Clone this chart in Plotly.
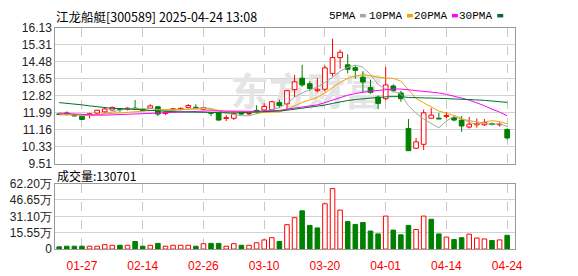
import plotly.graph_objects as go

# ---------------- data ----------------
dates = ["2025-01-22", "2025-01-23", "2025-01-24", "2025-01-27",
         "2025-02-05", "2025-02-06", "2025-02-07", "2025-02-10", "2025-02-11", "2025-02-12",
         "2025-02-13", "2025-02-14", "2025-02-17", "2025-02-18", "2025-02-19", "2025-02-20",
         "2025-02-21", "2025-02-24", "2025-02-25", "2025-02-26", "2025-02-27", "2025-02-28",
         "2025-03-03", "2025-03-04", "2025-03-05", "2025-03-06", "2025-03-07", "2025-03-10",
         "2025-03-11", "2025-03-12", "2025-03-13", "2025-03-14", "2025-03-17", "2025-03-18",
         "2025-03-19", "2025-03-20", "2025-03-21", "2025-03-24", "2025-03-25", "2025-03-26",
         "2025-03-27", "2025-03-28", "2025-03-31", "2025-04-01", "2025-04-02", "2025-04-03",
         "2025-04-07", "2025-04-08", "2025-04-09", "2025-04-10", "2025-04-11", "2025-04-14",
         "2025-04-15", "2025-04-16", "2025-04-17", "2025-04-18", "2025-04-21", "2025-04-22",
         "2025-04-23", "2025-04-24"]

opens = [11.93, 11.98, 11.88, 11.82, 11.86, 11.97, 12.03, 12.12, 12.19, 12.15,
         12.21, 12.15, 12.21, 12.28, 11.95, 12.12, 12.15, 12.25, 12.25, 12.15,
         11.98, 11.98, 11.71, 11.72, 12.00, 11.93, 12.10, 12.12, 12.14, 12.48,
         12.42, 13.11, 13.67, 13.40, 13.06, 13.13, 13.90, 14.67, 14.32, 14.18,
         13.71, 13.21, 12.75, 12.67, 13.29, 12.95, 11.22, 10.26, 10.45, 11.72,
         11.72, 11.80, 11.75, 11.63, 11.29, 11.40, 11.40, 11.45, 11.40, 11.17]
highs = [11.97, 12.05, 11.92, 11.84, 11.98, 12.12, 12.25, 12.28, 12.22, 12.25,
         12.60, 12.19, 12.40, 12.30, 12.06, 12.22, 12.24, 12.40, 12.40, 12.28,
         12.00, 12.00, 11.88, 12.01, 12.05, 12.00, 12.35, 12.45, 12.56, 12.62,
         13.08, 13.83, 14.32, 13.52, 13.67, 14.29, 15.59, 15.06, 14.83, 14.29,
         14.01, 13.60, 12.83, 14.21, 13.37, 13.06, 11.68, 10.76, 12.14, 12.21,
         11.98, 12.03, 11.83, 11.83, 11.78, 11.71, 11.68, 11.51, 11.52, 11.23]
lows = [11.87, 11.86, 11.80, 11.64, 11.71, 11.88, 12.00, 12.10, 12.03, 12.10,
        12.12, 12.05, 12.17, 11.83, 11.88, 12.05, 12.10, 12.20, 12.18, 12.10,
        11.82, 11.60, 11.58, 11.63, 11.88, 11.88, 11.93, 12.02, 12.10, 12.21,
        12.17, 12.75, 13.25, 13.06, 12.98, 13.01, 13.75, 14.13, 13.90, 13.64,
        12.98, 12.91, 12.17, 12.60, 12.98, 12.52, 10.14, 10.22, 10.17, 11.72,
        11.68, 11.72, 11.57, 11.06, 11.22, 11.26, 11.34, 11.37, 11.32, 10.68]
closes = [11.90, 11.91, 11.83, 11.66, 11.94, 12.11, 12.17, 12.25, 12.15, 12.21,
          12.17, 12.09, 12.32, 11.92, 12.01, 12.18, 12.20, 12.34, 12.22, 12.24,
          11.96, 11.63, 11.75, 11.94, 11.92, 11.95, 12.03, 12.29, 12.52, 12.34,
          13.06, 13.49, 13.34, 13.17, 13.13, 14.17, 14.67, 14.93, 14.10, 14.05,
          13.48, 12.98, 12.44, 13.34, 13.06, 12.67, 10.14, 10.57, 11.98, 11.87,
          11.68, 11.85, 11.63, 11.34, 11.43, 11.45, 11.52, 11.42, 11.43, 10.76]

ma5 = [11.92, 11.92, 11.90, 11.86, 11.85, 11.89, 11.94, 12.03, 12.12, 12.18,
       12.19, 12.17, 12.19, 12.14, 12.10, 12.10, 12.13, 12.13, 12.19, 12.24,
       12.19, 12.08, 11.96, 11.90, 11.84, 11.84, 11.92, 12.03, 12.14, 12.23,
       12.45, 12.74, 12.95, 13.08, 13.24, 13.46, 13.70, 14.01, 14.20, 14.30,
       14.20, 13.85, 13.35, 13.15, 13.02, 12.90, 12.33, 11.96, 11.68, 11.45,
       11.25, 11.59, 11.80, 11.67, 11.59, 11.54, 11.47, 11.43, 11.45, 11.32]
ma10 = [11.88, 11.88, 11.87, 11.86, 11.88, 11.90, 11.93, 11.96, 11.98, 12.01,
        12.04, 12.06, 12.11, 12.11, 12.14, 12.14, 12.15, 12.16, 12.17, 12.17,
        12.15, 12.10, 12.05, 12.05, 12.04, 12.02, 12.00, 11.99, 12.02, 12.03,
        12.14, 12.33, 12.49, 12.61, 12.73, 12.95, 13.21, 13.47, 13.65, 13.78,
        13.82, 13.80, 13.71, 13.70, 13.66, 13.52, 13.10, 12.68, 12.47, 12.25,
        12.07, 11.96, 11.86, 11.72, 11.52, 11.42, 11.53, 11.60, 11.56, 11.45]
ma20 = [11.97, 11.95, 11.92, 11.88, 11.87, 11.87, 11.87, 11.88, 11.89, 11.90,
        11.92, 11.94, 11.96, 11.97, 11.99, 12.01, 12.03, 12.05, 12.07, 12.08,
        12.08, 12.07, 12.06, 12.06, 12.06, 12.06, 12.06, 12.07, 12.09, 12.10,
        12.16, 12.22, 12.27, 12.32, 12.37, 12.48, 12.61, 12.74, 12.84, 12.92,
        12.99, 13.04, 13.07, 13.12, 13.14, 13.14, 13.10, 13.06, 13.04, 13.01,
        12.95, 12.88, 12.80, 12.70, 12.60, 12.48, 12.33, 12.16, 12.02, 11.84]
ma30 = [12.48, 12.45, 12.41, 12.37, 12.32, 12.27, 12.23, 12.20, 12.19, 12.18,
        12.16, 12.13, 12.10, 12.07, 12.05, 12.04, 12.03, 12.02, 12.01, 12.00,
        11.99, 11.98, 11.98, 11.98, 11.99, 12.00, 12.02, 12.04, 12.06, 12.07,
        12.11, 12.16, 12.20, 12.25, 12.29, 12.36, 12.44, 12.52, 12.58, 12.63,
        12.67, 12.71, 12.73, 12.76, 12.77, 12.77, 12.73, 12.71, 12.71, 12.70,
        12.69, 12.68, 12.67, 12.65, 12.63, 12.61, 12.59, 12.56, 12.53, 12.49]

# volume in 万 (10k); direction of the volume bar (r = up / hollow red, d = down / green)
volumes = [2.1, 2.7, 2.7, 2.7, 2.7, 2.7, 4.2, 3.6, 3.6, 3.6,
           7.2, 2.7, 3.6, 5.4, 2.7, 3.6, 3.6, 3.6, 2.7, 5.1,
           5.4, 5.4, 2.7, 5.1, 3.6, 3.6, 6.0, 8.7, 10.8, 7.2,
           23.2, 29.8, 36.3, 22.5, 20.1, 43.0, 57.4, 37.0, 26.1, 23.4,
           25.2, 17.1, 14.4, 31.3, 18.0, 13.5, 22.5, 18.6, 31.3, 28.3,
           14.4, 11.4, 9.0, 10.8, 14.1, 10.5, 9.6, 8.1, 8.7, 13.07]
vol_dir = list("ddddrrrrdrddrdrrrrdrddrrdrrrrd"
               "rrdddrrrdddddrdddrrddrddrrrdrd")

price_ticks = [9.51, 10.33, 11.16, 11.99, 12.82, 13.65, 14.48, 15.31, 16.13]
vol_ticks = [0, 15.55, 31.10, 46.65, 62.20]
vol_tick_text = ["0", "15.55万", "31.10万", "46.65万", "62.20万"]
date_tick_labels = ["01-27", "02-14", "02-26", "03-10", "03-20", "04-01", "04-14", "04-24"]

title_text = "江龙船艇[300589] 2025-04-24 13:08"
vol_label = "成交量:130701"
ma_names = ["5PMA", "10PMA", "20PMA", "30PMA"]
ma_colors = ["#a6a6a6", "#f5a300", "#ff00ff", "#00702e"]
watermark = "东方财富"

# ---------------- layout helpers ----------------
W, H = 578, 276
RED = "#ff0000"
GREEN = "#008000"


def px_x(px):
    return px / W


def px_y(py):
    return 1 - py / H


n = len(dates)
xs = list(range(n))
tick_idx = [[d[5:] for d in dates].index(t) for t in date_tick_labels]
xrange_ = [-0.52, n]

up = [c >= o for o, c in zip(opens, closes)]
body_base = [min(o, c) for o, c in zip(opens, closes)]
body_h = [max(abs(c - o), 0.02) for o, c in zip(opens, closes)]
body_fill = ["#ffffff" if u else GREEN for u in up]
body_line = [RED if u else GREEN for u in up]


def wick_xy(flag):
    wx, wy = [], []
    for i in range(n):
        if up[i] != flag:
            continue
        top = max(opens[i], closes[i])
        bot = min(opens[i], closes[i])
        wx += [i, i, None, i, i, None]
        wy += [highs[i], top, None, bot, lows[i], None]
    return wx, wy


fig = go.Figure()

# faint watermark on the base price subplot (drawn beneath the overlay subplot)
fig.add_trace(go.Scatter(x=[32.6], y=[12.84], mode="text", text=["<b>" + watermark + "</b>"],
                         textfont=dict(size=38, color="#e4e4e4", family="Noto Sans CJK SC"),
                         xaxis="x", yaxis="y", hoverinfo="skip", showlegend=False))

# candle bodies
fig.add_trace(go.Bar(x=xs, y=body_h, base=body_base, width=0.62,
                     marker=dict(color=body_fill, line=dict(color=body_line, width=1)),
                     xaxis="x3", yaxis="y3", showlegend=False))
# wicks
for flag, col in [(True, RED), (False, GREEN)]:
    wx, wy = wick_xy(flag)
    fig.add_trace(go.Scatter(x=wx, y=wy, mode="lines", line=dict(color=col, width=1),
                             xaxis="x3", yaxis="y3", showlegend=False, hoverinfo="skip"))
# moving averages
for name, vals, col in zip(ma_names, [ma5, ma10, ma20, ma30], ma_colors):
    fig.add_trace(go.Scatter(x=xs, y=vals, mode="lines", name=name,
                             line=dict(color=col, width=1), xaxis="x3", yaxis="y3",
                             showlegend=False))

# volume
vol_fill = ["#ffffff" if d == "r" else GREEN for d in vol_dir]
vol_line = [RED if d == "r" else GREEN for d in vol_dir]
fig.add_trace(go.Bar(x=xs, y=volumes, width=0.6,
                     marker=dict(color=vol_fill, line=dict(color=vol_line, width=1)),
                     xaxis="x2", yaxis="y2", showlegend=False))

xdom = [px_x(56), px_x(522)]
frame = "#9a9a9a"
hgrid = "#d2d2d2"
vgrid = "#c8c8c8"
tickfont = dict(family="Liberation Sans, Arial, sans-serif", size=12, color="#222222")

fig.update_layout(
    width=W, height=H, margin=dict(l=0, r=0, t=0, b=0),
    paper_bgcolor="white", plot_bgcolor="white",
    barmode="overlay", showlegend=False,
    xaxis=dict(domain=xdom, range=xrange_, anchor="y", tickvals=tick_idx,
               showticklabels=False, ticks="", showgrid=True, gridcolor=vgrid,
               griddash="dash", gridwidth=1, zeroline=False,
               showline=True, mirror=True, linecolor=frame, linewidth=1),
    yaxis=dict(domain=[px_y(165), px_y(21.7)], range=[price_ticks[0], price_ticks[-1]],
               anchor="x", tickvals=price_ticks, ticktext=[f"{v:.2f}" for v in price_ticks],
               tickfont=tickfont, ticks="", showgrid=True, gridcolor=hgrid, zeroline=False,
               showline=True, mirror=True, linecolor=frame, linewidth=1),
    xaxis3=dict(overlaying="x", matches="x", visible=False, anchor="y3"),
    yaxis3=dict(overlaying="y", range=[price_ticks[0], price_ticks[-1]], visible=False,
                anchor="x3"),
    xaxis2=dict(domain=xdom, range=xrange_, anchor="y2", tickvals=tick_idx,
                ticktext=date_tick_labels, ticks="", ticklabelstandoff=6,
                tickfont=dict(family="Liberation Sans, Arial, sans-serif", size=12, color=RED),
                showgrid=True, gridcolor=vgrid, griddash="dash", gridwidth=1, zeroline=False,
                showline=True, mirror=True, linecolor=frame, linewidth=1),
    yaxis2=dict(domain=[px_y(255), px_y(186)], range=[vol_ticks[0], vol_ticks[-1]],
                anchor="x2", tickvals=vol_ticks, ticktext=vol_tick_text, tickfont=tickfont,
                ticks="", showgrid=True, gridcolor=hgrid, zeroline=False,
                showline=True, mirror=True, linecolor=frame, linewidth=1),
)

annotations = [
    dict(text=title_text, x=px_x(55), y=px_y(9.5), xref="paper", yref="paper",
         xanchor="left", yanchor="middle", showarrow=False,
         font=dict(family="Noto Sans CJK SC", size=12.5, color="#000000")),
    dict(text=vol_label, x=px_x(56), y=px_y(178), xref="paper", yref="paper",
         xanchor="left", yanchor="middle", showarrow=False,
         font=dict(family="Noto Sans CJK SC", size=12, color="#000000")),
]
legend_text_right = [363, 410, 455, 501]
legend_box_left = [365, 412.7, 458.3, 504.3]
shapes = []
for name, col, tr, bl in zip(ma_names, ma_colors, legend_text_right, legend_box_left):
    annotations.append(dict(text=name, x=px_x(tr), y=px_y(9), xref="paper", yref="paper",
                            xanchor="right", yanchor="middle", showarrow=False,
                            font=dict(family="Liberation Mono, monospace", size=11,
                                      color="#000000")))
    shapes.append(dict(type="rect", xref="paper", yref="paper",
                       x0=px_x(bl), x1=px_x(bl + 6), y0=px_y(11), y1=px_y(7.3),
                       fillcolor=col, line=dict(width=0)))
fig.update_layout(annotations=annotations, shapes=shapes)

fig.write_html("out.html")
